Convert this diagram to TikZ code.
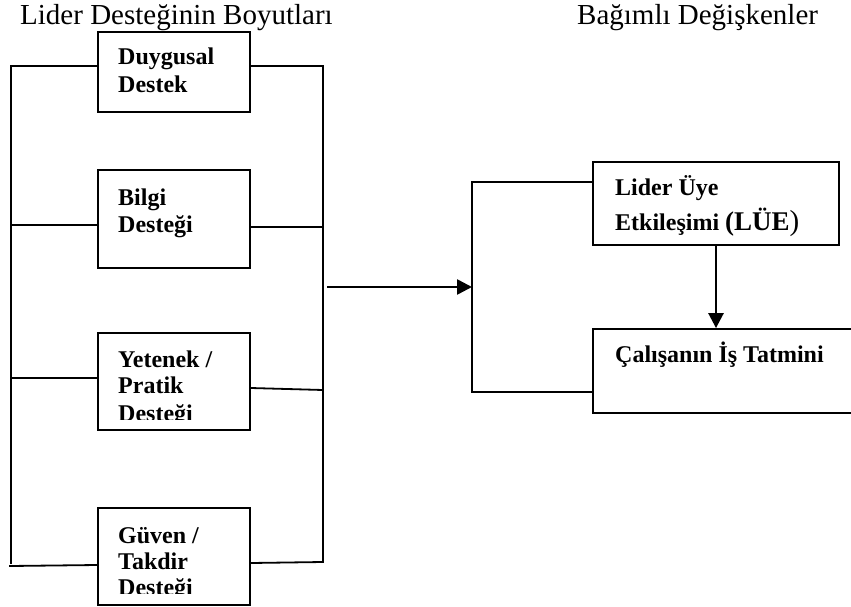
\documentclass[tikz,border=0pt]{standalone}
\usepackage{fontspec}
\setmainfont{Liberation Serif}
\usetikzlibrary{arrows.meta}
\tikzset{
  frame/.style={line width=1.8pt, line cap=rect},
  boxshape/.style={draw, line width=1.8pt, rectangle, inner sep=0pt},
  arr/.style={line width=2.6pt, -{Triangle[length=15pt,width=15pt]}},
  title/.style={font=\fontsize{29}{34}\selectfont, inner sep=0pt, anchor=base west},
  lbl/.style={font=\fontsize{24}{27}\selectfont\bfseries, inner sep=0pt, anchor=base west}
}
\begin{document}
\begin{tikzpicture}[x=1pt,y=-1pt]
\useasboundingbox (0,0) rectangle (851,607);
% titles
\node[title] (t1) at (20,25) {Lider Desteğinin Boyutları};
\node[title] (t2) at (577,25) {Bağımlı Değişkenler};
% left boxes
\node[boxshape, minimum width=152pt, minimum height=80pt] (b1) at (174,72) {};
\node[boxshape, minimum width=152pt, minimum height=98pt] (b2) at (174,219) {};
\node[boxshape, minimum width=152pt, minimum height=97pt] (b3) at (174,381.5) {};
\node[boxshape, minimum width=152pt, minimum height=97pt] (b4) at (174,556.5) {};
% right boxes
\node[boxshape, minimum width=246pt, minimum height=83pt] (l1) at (716,203.5) {};
\node[boxshape, minimum width=287pt, minimum height=84pt] (l2) at (736.5,371) {};
% texts
\node[lbl] (b1a) at (118,65) {Duygusal};
\node[lbl] (b1b) at (118,93) {Destek};
\node[lbl] (b2a) at (118,205) {Bilgi};
\node[lbl] (b2b) at (118,232) {Desteği};
\begin{scope}
  \clip (98,333) rectangle (250,419);
  \node[lbl] (b3a) at (118,367) {Yetenek /};
  \node[lbl] (b3b) at (118,393) {Pratik};
  \node[lbl] (b3c) at (118,421) {Desteği};
\end{scope}
\begin{scope}
  \clip (98,508) rectangle (250,593);
  \node[lbl] (b4a) at (118,543) {Güven /};
  \node[lbl] (b4b) at (118,569) {Takdir};
  \node[lbl] (b4c) at (118,595) {Desteği};
\end{scope}
\node[lbl] (l1a) at (615,195) {Lider Üye};
\node[lbl] (l1b) at (615,230) {Etkileşimi {\fontsize{27}{30}\selectfont(LÜE}{\fontsize{29}{30}\selectfont\mdseries)}};
\node[lbl] (l2a) at (615,362) {Çalışanın İş Tatmini};
% frame coordinates
\coordinate (LT) at (11,66);
\coordinate (LB) at (11,563);
\coordinate (RT) at (323,66);
\coordinate (RB) at (323,562);
\coordinate (L2) at (11,225);
\coordinate (R2) at (323,227);
\coordinate (L3) at (11,378);
\coordinate (R3) at (323,390);
\coordinate (L4) at (10,566);
\coordinate (R4) at (323,562);
% left frame
\draw[frame] (LT) -- (LB);
\draw[frame] (RT) -- (RB);
\draw[frame] (LT) -- (LT -| b1.west);
\draw[frame] (b1.east |- RT) -- (RT);
\draw[frame] (L2) -- (L2 -| b2.west);
\draw[frame] (b2.east |- R2) -- (R2);
\draw[frame] (L3) -- (L3 -| b3.west);
\draw[frame] (b3.east |- 0,388) -- (R3);
\draw[frame] (L4) -- (b4.west |- 0,565);
\draw[frame] (b4.east |- 0,563) -- (R4);
% main arrow
\coordinate (AS) at (327,287);
\coordinate (AE) at (472,287);
\draw[arr] (AS) -- (AE);
% right frame
\coordinate (Q1) at (472,182);
\coordinate (Q2) at (472,392);
\draw[frame] (l1.west |- Q1) -- (Q1) -- (Q2) -- (Q2 -| l2.west);
% down arrow
\draw[arr] (l1.south) -- (l1.south |- l2.north);
\end{tikzpicture}
\end{document}
